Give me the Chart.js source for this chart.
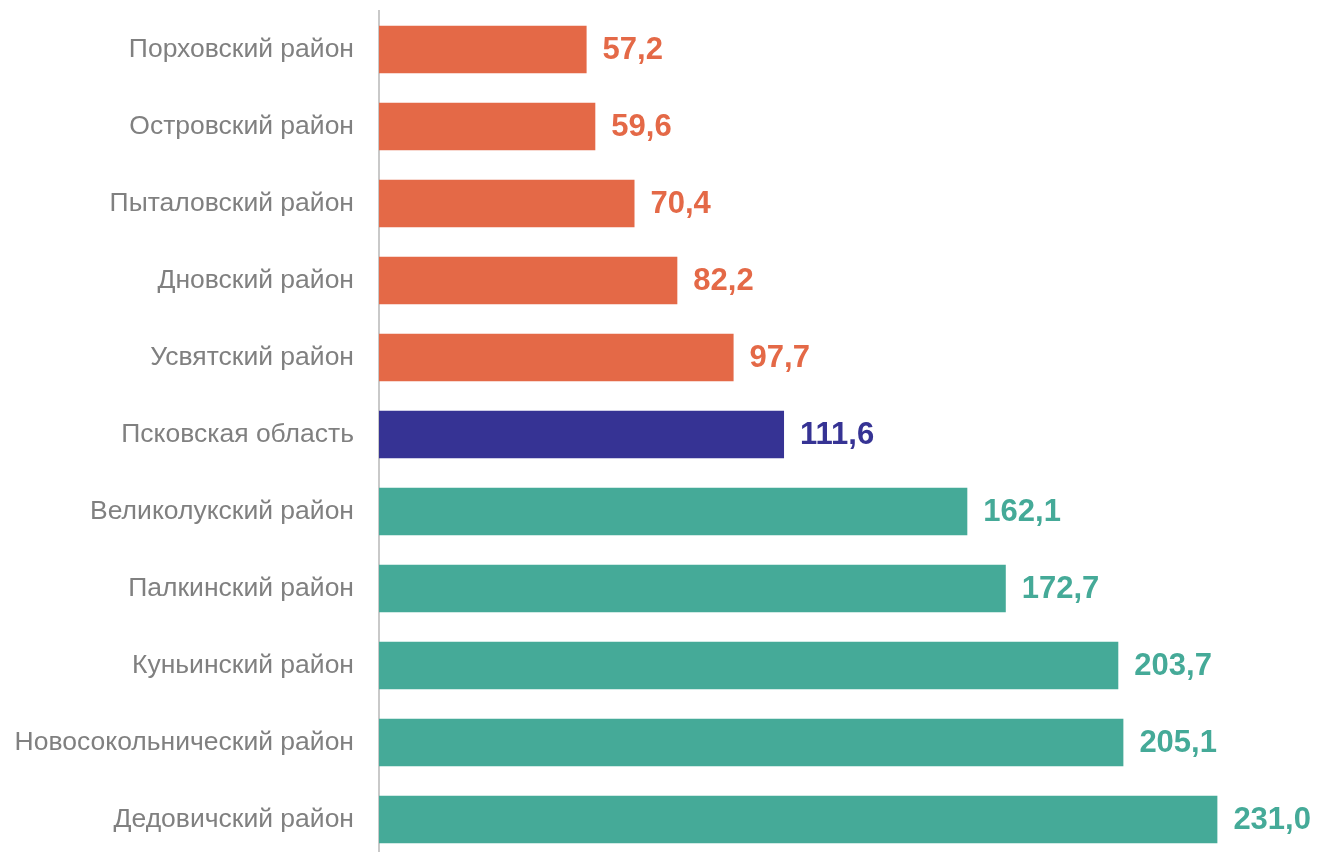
<!DOCTYPE html>
<html>
<head>
<meta charset="utf-8">
<script src="https://cdn.jsdelivr.net/npm/chart.js@4"></script>
<style>
  html, body { margin: 0; padding: 0; background: #fff; overflow: hidden; }
  #wrap { width: 1319px; height: 860px; position: relative; }
</style>
</head>
<body>
<div id="wrap"><canvas id="myChart"></canvas></div>
<script>
const districts = [
  "Порховский район",
  "Островский район",
  "Пыталовский район",
  "Дновский район",
  "Усвятский район",
  "Псковская область",
  "Великолукский район",
  "Палкинский район",
  "Куньинский район",
  "Новосокольнический район",
  "Дедовичский район",
];
const values = [57.2, 59.6, 70.4, 82.2, 97.7, 111.6, 162.1, 172.7, 203.7, 205.1, 231.0];
const groups = ["low", "low", "low", "low", "low", "region", "high", "high", "high", "high", "high"];

const groupColors = { low: "#E46947", region: "#363394", high: "#45AA98" };
const barColors = groups.map((g) => groupColors[g]);

// value labels to the right of each bar, coloured like the bar
const valueLabels = {
  id: "valueLabels",
  afterDatasetsDraw(chart) {
    const ctx = chart.ctx;
    const meta = chart.getDatasetMeta(0);
    ctx.save();
    ctx.font = "bold 31px 'Liberation Sans', Arial, sans-serif";
    ctx.textAlign = "left";
    ctx.textBaseline = "middle";
    meta.data.forEach((bar, i) => {
      ctx.fillStyle = barColors[i];
      const txt = values[i].toFixed(1).replace(".", ",");
      ctx.fillText(txt, bar.x + 16, bar.y + 1);
    });
    ctx.restore();
  },
};

const ctx = document.getElementById("myChart");
const myChart = new Chart(ctx, {
  type: "bar",
  data: {
    labels: districts,
    datasets: [
      {
        data: values,
        backgroundColor: barColors,
        borderWidth: 0,
        barPercentage: 0.617,
        categoryPercentage: 1,
      },
    ],
  },
  options: {
    indexAxis: "y",
    responsive: true,
    maintainAspectRatio: false,
    animation: false,
    layout: { padding: { top: 11, bottom: 2, left: 0, right: 0 } },
    plugins: {
      legend: { display: false },
      tooltip: { enabled: false },
    },
    scales: {
      x: {
        display: false,
        min: 0,
        max: 259,
      },
      y: {
        afterFit(scale) {
          scale.width = 379;
          scale.paddingTop = 0;
          scale.paddingBottom = 0;
        },
        grid: { display: false },
        border: { display: true, color: "#c9c9c9", width: 2 },
        ticks: {
          padding: 17,
          color: "#808080",
          font: { family: "'Liberation Sans', Arial, sans-serif", size: 26.5 },
        },
      },
    },
  },
  plugins: [valueLabels],
});
</script>
</body>
</html>
